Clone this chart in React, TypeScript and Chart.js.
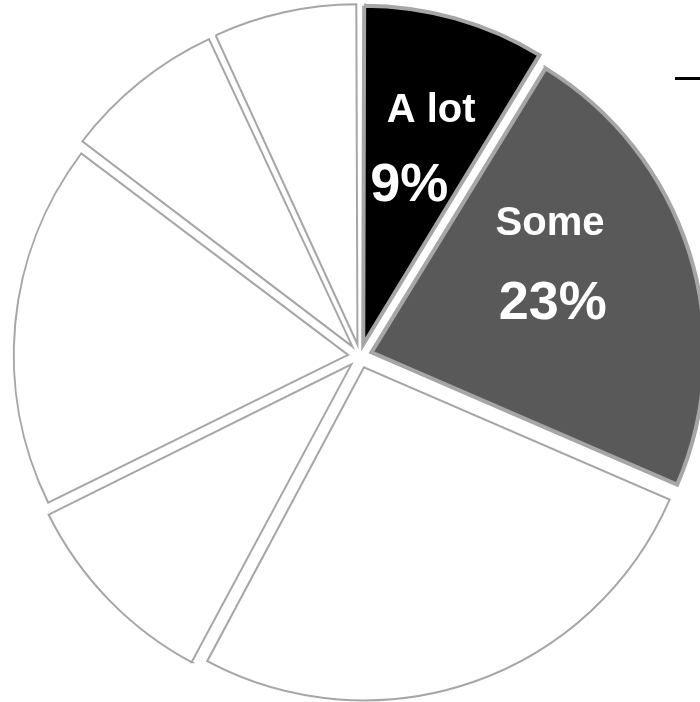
import React, { useEffect, useRef } from "react";
import { Chart, registerables } from "chart.js";

Chart.register(...registerables);

// ---- data ----
const categories = ["A lot", "Some", "A little", "Not much", "Very little", "Hardly any", "None"];
const shares = [8.75, 22.75, 26.3, 9.9, 17.6, 7.8, 6.9];
const valueLabels = ["9%", "23%", "", "", "", "", ""];
const fillColors = ["#000000", "#595959", "#ffffff", "#ffffff", "#ffffff", "#ffffff", "#ffffff"];
const borderColors = ["#a6a6a6", "#a6a6a6", "#a6a6a6", "#a6a6a6", "#a6a6a6", "#a6a6a6", "#a6a6a6"];
const borderWidths = [4, 4, 2, 2, 2, 2, 2];

// label placement (degrees clockwise from top, fraction of radius)
const nameLabelPos = [
  { angle: 16.2, r: 0.765, size: 40 },
  { angle: 55.2, r: 0.695, size: 40 },
];
const valueLabelPos = [
  { angle: 16.2, r: 0.53, size: 54 },
  { angle: 74.8, r: 0.6, size: 54 },
];

const FONT = '"Liberation Sans", Arial, sans-serif';

const labelPlugin = {
  id: "sliceLabels",
  afterDatasetsDraw(chart: any) {
    const ctx = chart.ctx;
    const meta = chart.getDatasetMeta(0);
    ctx.save();
    ctx.fillStyle = "#ffffff";
    ctx.textAlign = "center";
    ctx.textBaseline = "middle";
    nameLabelPos.forEach((p, i) => {
      const arc = meta.data[i] as any;
      const a = ((p.angle - 90) * Math.PI) / 180;
      const R = arc.outerRadius;
      ctx.font = `bold ${p.size}px ${FONT}`;
      ctx.fillText(categories[i], arc.x + Math.cos(a) * R * p.r, arc.y + Math.sin(a) * R * p.r);
    });
    valueLabelPos.forEach((p, i) => {
      const arc = meta.data[i] as any;
      const a = ((p.angle - 90) * Math.PI) / 180;
      const R = arc.outerRadius;
      ctx.font = `bold ${p.size}px ${FONT}`;
      ctx.fillText(valueLabels[i], arc.x + Math.cos(a) * R * p.r, arc.y + Math.sin(a) * R * p.r);
    });
    // leader line stub at the top right
    ctx.strokeStyle = "#000000";
    ctx.lineWidth = 3;
    ctx.beginPath();
    ctx.moveTo(675, 78.5);
    ctx.lineTo(730, 78.5);
    ctx.stroke();
    ctx.restore();
  },
};

export default function App() {
  const ref = useRef<HTMLCanvasElement | null>(null);
  useEffect(() => {
    if (!ref.current) return;
    const chart = new Chart(ref.current, {
      type: "pie",
      data: {
        labels: categories,
        datasets: [
          {
            data: shares,
            backgroundColor: fillColors,
            borderColor: borderColors,
            borderWidth: borderWidths,
            offset: 48,
            borderJoinStyle: "miter",
          } as any,
        ],
      },
      options: {
        responsive: false,
        animation: false,
        radius: 333,
        layout: { padding: { top: 10, left: 0, right: 0, bottom: 0 } },
        plugins: {
          legend: { display: false },
          tooltip: { enabled: false },
          title: { display: false },
        },
        events: [],
      } as any,
      plugins: [labelPlugin],
    });
    return () => chart.destroy();
  }, []);
  return (
    <div
      style={{
        position: "fixed",
        left: 0,
        top: 0,
        width: 700,
        height: 702,
        overflow: "hidden",
        background: "#ffffff",
      }}
    >
      <canvas ref={ref} width={720} height={702} style={{ width: 720, height: 702, display: "block" }} />
    </div>
  );
}
